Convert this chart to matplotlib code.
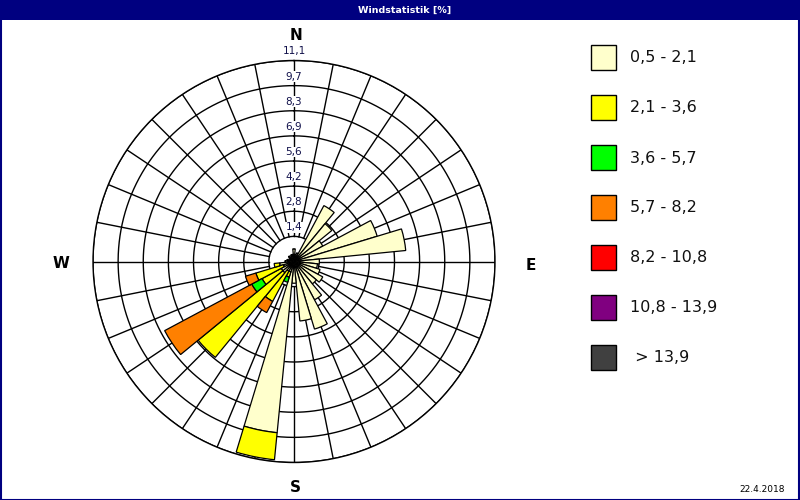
import numpy as np
import matplotlib
matplotlib.use("Agg")
import matplotlib.pyplot as plt
from matplotlib.patches import Rectangle

# Wind directions: 32 sectors, compass degrees (clockwise from north)
directions = np.arange(32) * 11.25

# Frequency [%] per direction for each wind speed class
speed_05_21 = [0.7, 0.4, 0.5, 3.5, 2.7, 1.8, 4.8, 6.2,
               1.4, 1.3, 1.5, 1.8, 1.6, 2.4, 3.9, 3.3,
               1.2, 9.5, 0.6, 0.6, 0.8, 0.8, 0.6, 0.8,
               0.5, 0.4, 0.3, 0.3, 0.4, 0.3, 0.4, 0.4]
speed_21_36 = [0.0, 0.0, 0.0, 0.0, 0.0, 0.0, 0.0, 0.0,
               0.0, 0.0, 0.0, 0.0, 0.0, 0.0, 0.0, 0.0,
               0.0, 1.5, 0.3, 1.9, 6.05, 1.2, 1.6, 0.3,
               0.0, 0.0, 0.0, 0.0, 0.0, 0.0, 0.0, 0.0]
speed_36_57 = [0.0, 0.0, 0.0, 0.0, 0.0, 0.0, 0.0, 0.0,
               0.0, 0.0, 0.0, 0.0, 0.0, 0.0, 0.0, 0.0,
               0.0, 0.0, 0.3, 0.0, 0.0, 0.65, 0.0, 0.0,
               0.0, 0.0, 0.0, 0.0, 0.0, 0.0, 0.0, 0.0]
speed_57_82 = [0.0, 0.0, 0.0, 0.0, 0.0, 0.0, 0.0, 0.0,
               0.0, 0.0, 0.0, 0.0, 0.0, 0.0, 0.0, 0.0,
               0.0, 0.0, 0.0, 0.7, 0.0, 5.45, 0.6, 0.0,
               0.0, 0.0, 0.0, 0.0, 0.0, 0.0, 0.0, 0.0]
speed_82_108 = [0.0] * 32
speed_108_139 = [0.0] * 32
speed_over_139 = [0.0] * 32

series = [speed_05_21, speed_21_36, speed_36_57, speed_57_82,
          speed_82_108, speed_108_139, speed_over_139]
class_labels = ["0,5 - 2,1", "2,1 - 3,6", "3,6 - 5,7", "5,7 - 8,2",
                "8,2 - 10,8", "10,8 - 13,9", " > 13,9"]
class_colors = ["#FFFFCC", "#FFFF00", "#00FF00", "#FF8000",
                "#FF0000", "#800080", "#404040"]

ring_labels = ["1,4", "2,8", "4,2", "5,6", "6,9", "8,3", "9,7", "11,1"]
r_max = 11.1
cardinals = ["N", "E", "S", "W"]

W, H = 800, 500
fig = plt.figure(figsize=(W / 100, H / 100), dpi=100)
fig.patch.set_facecolor("white")

# window frame and title bar
navy = "#000080"
fig.add_artist(Rectangle((0, 1 - 20 / H), 1, 20 / H, transform=fig.transFigure,
                         facecolor=navy, edgecolor="none", zorder=5))
fig.add_artist(Rectangle((0.5 / W, 0.5 / H), 1 - 1.5 / W, 1 - 1.5 / H,
                         transform=fig.transFigure, facecolor="none",
                         edgecolor=navy, linewidth=1.5, zorder=5))
fig.text(405 / W, 1 - 10 / H, "Windstatistik [%]", color="white",
         fontsize=6.8, fontweight="bold", ha="center", va="center", zorder=6)

# polar rose
cx, cy, rad = 294, 261.5, 201
ax = fig.add_axes([(cx - rad) / W, 1 - (cy + rad) / H, 2 * rad / W, 2 * rad / H],
                  projection="polar")
ax.set_theta_zero_location("N")
ax.set_theta_direction(-1)
ax.set_ylim(0, r_max)
ax.set_xticks([])
ax.set_yticks([])
ax.grid(False)
ax.spines["polar"].set_linewidth(1.0)
ax.spines["polar"].set_color("black")

n_rings = len(ring_labels)
ring_r = [r_max * (k + 1) / n_rings for k in range(n_rings)]
tt = np.linspace(0, 2 * np.pi, 720)
for r in ring_r:
    ax.plot(tt, np.full_like(tt, r), color="black", lw=1.0, zorder=1)
for d in directions:
    t = np.deg2rad(d)
    ax.plot([t, t], [ring_r[0], r_max], color="black", lw=1.0, zorder=1)

theta = np.deg2rad(directions)
width = np.deg2rad(11.25)
bottom = np.zeros(len(directions))
for vals, col in zip(series, class_colors):
    vals = np.asarray(vals, dtype=float)
    mask = vals > 0
    ax.bar(theta[mask], vals[mask], width=width, bottom=bottom[mask],
           color=col, edgecolor="black", linewidth=0.9, zorder=3)
    bottom += vals

for r, lab in zip(ring_r, ring_labels):
    ax.text(0, r + 0.5, lab, ha="center", va="center", fontsize=7.5,
            color="#10104a", zorder=4, clip_on=False,
            bbox=dict(facecolor="white", edgecolor="none", pad=0.3))

# compass letters
card_pos = {"N": (296, 36), "E": (531, 265), "S": (295, 488), "W": (61, 264)}
for c in cardinals:
    x, y = card_pos[c]
    fig.text(x / W, 1 - y / H, c, fontsize=11, fontweight="bold",
             ha="center", va="center", color="black")

# legend
for k, (lab, col) in enumerate(zip(class_labels, class_colors)):
    y0 = 45 + 50 * k
    fig.add_artist(Rectangle((591 / W, 1 - (y0 + 25) / H), 25 / W, 25 / H,
                             transform=fig.transFigure, facecolor=col,
                             edgecolor="black", linewidth=1.0))
    fig.text(630 / W, 1 - (y0 + 13) / H, lab, fontsize=11.5,
             ha="left", va="center", color="#101010")

fig.text(785 / W, 1 - 489 / H, "22.4.2018", fontsize=6.5, ha="right",
         va="center", color="black")

fig.savefig("out.png", dpi=100)
